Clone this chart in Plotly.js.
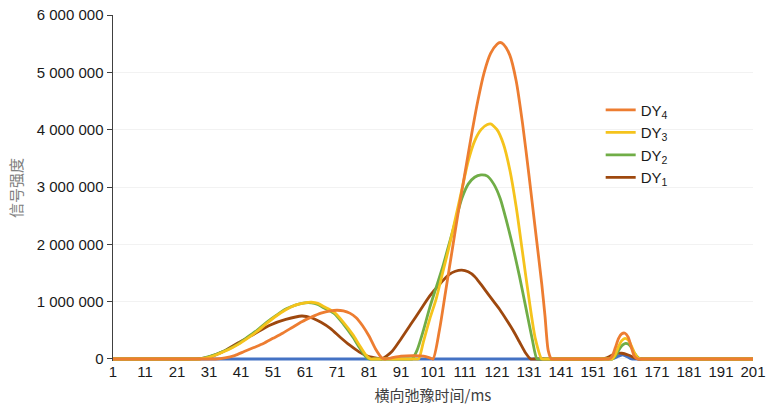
<!DOCTYPE html>
<html>
<head>
<meta charset="utf-8">
<script src="https://cdn.plot.ly/plotly-3.0.1.min.js"></script>
<style>html,body{margin:0;padding:0;background:#fff}#chart{width:772px;height:414px}</style>
</head>
<body>
<div id="chart"></div>
<script>
// ---- data ----
const xTickVals = [1, 11, 21, 31, 41, 51, 61, 71, 81, 91, 101, 111, 121, 131, 141, 151, 161, 171, 181, 191, 201];
const xTickText = ["1", "11", "21", "31", "41", "51", "61", "71", "81", "91", "101", "111", "121", "131", "141", "151", "161", "171", "181", "191", "201"];
const yTickVals = [0, 1000000, 2000000, 3000000, 4000000, 5000000, 6000000];
const yTickText = ["0", "1 000 000", "2 000 000", "3 000 000", "4 000 000", "5 000 000", "6 000 000"];

const seriesNames = ["DY<sub>1</sub>", "DY<sub>2</sub>", "DY<sub>3</sub>", "DY<sub>4</sub>"];

// DY1 (brown)
const dy1X = [1, 2, 24, 25, 30, 35, 40, 45, 50, 55, 60, 63, 66, 69, 72, 75, 78, 81, 84, 85, 88, 91, 94, 97, 100, 103, 106, 108, 110, 112, 114, 116, 118, 120, 122, 124, 126, 128, 130, 131.5, 132.5, 153, 154, 156, 158, 160, 162, 164, 165, 166, 200, 201];
const dy1Y = [0, 0, 0, 0, 20000, 120000, 280000, 430000, 590000, 690000, 750000, 720000, 640000, 530000, 380000, 240000, 120000, 40000, 10000, 0, 120000, 350000, 600000, 850000, 1100000, 1300000, 1470000, 1530000, 1550000, 1520000, 1440000, 1300000, 1150000, 1000000, 850000, 680000, 500000, 300000, 100000, 0, 0, 0, 0, 40000, 90000, 100000, 70000, 20000, 0, 0, 0, 0];

// DY2 (green)
const dy2X = [1, 2, 27, 28, 31, 34, 37, 40, 43, 46, 49, 52, 55, 58, 61, 63, 65, 67, 70, 73, 76, 78, 80, 81, 82, 93.5, 94.5, 96, 98, 100, 102, 104, 106, 108, 110, 112, 114, 116, 118, 120, 122, 124, 126, 128, 130, 132, 133.5, 134.5, 156, 157, 158, 159, 160, 161, 162, 163, 164, 165, 166, 167, 200, 201];
const dy2Y = [0, 0, 0, 0, 40000, 100000, 170000, 260000, 380000, 500000, 640000, 760000, 870000, 940000, 980000, 980000, 950000, 890000, 800000, 610000, 380000, 200000, 40000, 0, 0, 0, 0, 150000, 500000, 900000, 1250000, 1600000, 2000000, 2400000, 2800000, 3050000, 3170000, 3210000, 3190000, 3050000, 2800000, 2400000, 1950000, 1450000, 900000, 350000, 0, 0, 0, 0, 50000, 150000, 230000, 270000, 260000, 200000, 100000, 30000, 0, 0, 0, 0];

// DY3 (yellow)
const dy3X = [1, 2, 27, 28, 31, 34, 37, 40, 43, 46, 49, 52, 55, 58, 61, 63, 65, 67, 70, 73, 76, 78, 80, 81.5, 82.5, 95.5, 96.5, 98, 100, 102, 104, 106, 108, 110, 112, 114, 116, 118, 119, 121, 123, 125, 127, 129, 131, 133, 135, 136, 156, 157, 158, 159, 160, 161, 162, 163, 164, 165, 166, 167, 200, 201];
const dy3Y = [0, 0, 0, 0, 30000, 90000, 160000, 250000, 360000, 480000, 620000, 750000, 860000, 940000, 980000, 990000, 970000, 910000, 820000, 640000, 420000, 240000, 70000, 0, 0, 0, 0, 300000, 700000, 1050000, 1500000, 1950000, 2450000, 2950000, 3450000, 3800000, 4000000, 4090000, 4100000, 4000000, 3750000, 3300000, 2650000, 1850000, 1050000, 350000, 0, 0, 0, 0, 80000, 220000, 320000, 360000, 330000, 230000, 100000, 20000, 0, 0, 0, 0];

// DY4 (orange)
const dy4X = [1, 2, 32, 33, 36, 39, 42, 45, 48, 51, 54, 57, 60, 63, 66, 69, 71, 73, 75, 77, 79, 81, 83, 85, 86, 88, 91, 95, 98, 100, 101, 103, 105, 107, 109, 111, 113, 115, 117, 119, 121, 122, 123, 125, 127, 129, 131, 133, 135, 136, 137, 138, 139, 155, 156, 157, 158, 159, 160, 161, 162, 163, 164, 165, 166, 200, 201];
const dy4Y = [0, 0, 0, 0, 20000, 60000, 130000, 200000, 270000, 360000, 450000, 550000, 650000, 730000, 800000, 840000, 850000, 840000, 800000, 720000, 580000, 400000, 180000, 20000, 0, 20000, 50000, 60000, 50000, 20000, 0, 500000, 1200000, 1900000, 2600000, 3250000, 3900000, 4500000, 5000000, 5330000, 5490000, 5520000, 5490000, 5300000, 4850000, 4100000, 3200000, 2250000, 1300000, 750000, 150000, 0, 0, 0, 0, 50000, 200000, 360000, 440000, 450000, 380000, 200000, 40000, 0, 0, 0, 0];

// unlabelled blue series (baseline)
const baseX = [1, 2, 155, 156, 157, 159, 160, 161, 163, 164, 165, 200, 201];
const baseY = [0, 0, 0, 0, 0, 50000, 70000, 60000, 0, 0, 0, 0, 0];

const colors = {base: "#4472C4", dy1: "#9E480E", dy2: "#70AD47", dy3: "#F5C31C", dy4: "#ED7D31"};

function tr(x, y, name, color, show) {
  return {x: x, y: y, name: name, type: "scatter", mode: "lines",
    line: {color: color, width: 2.8, shape: "spline", smoothing: 0.7},
    showlegend: show, hoverinfo: "skip"};
}

const data = [
  tr(baseX, baseY, "", colors.base, false),
  tr(dy1X, dy1Y, seriesNames[0], colors.dy1, true),
  tr(dy2X, dy2Y, seriesNames[1], colors.dy2, true),
  tr(dy3X, dy3Y, seriesNames[2], colors.dy3, true),
  tr(dy4X, dy4Y, seriesNames[3], colors.dy4, true)
];

const font = {family: "Liberation Sans, Arial, sans-serif", size: 15, color: "#1a1a1a"};

const layout = {
  width: 772, height: 414,
  margin: {l: 113, r: 19, t: 15, b: 53},
  paper_bgcolor: "#fff", plot_bgcolor: "#fff",
  font: font,
  showlegend: true,
  legend: {x: 0.762, y: 0.773, xanchor: "left", yanchor: "top", traceorder: "reversed",
    font: {family: font.family, size: 15, color: "#1a1a1a"}, bgcolor: "rgba(0,0,0,0)"},
  xaxis: {range: [1, 201], tickvals: xTickVals, ticktext: xTickText, showgrid: false,
    zeroline: false, showline: false, ticks: "", tickfont: font,
    title: {text: "横向弛豫时间/ms", font: {family: "Noto Sans CJK SC, sans-serif", size: 15, color: "#404040"}, standoff: 11}},
  yaxis: {range: [-35000, 6000000], tickvals: yTickVals, ticktext: yTickText,
    showgrid: true, gridcolor: "#f2f2f2", gridwidth: 1, zeroline: false,
    showline: true, linecolor: "#404040", linewidth: 1.5, ticks: "outside", ticklen: 5,
    tickcolor: "#404040", tickfont: font,
    title: {text: "信号强度", font: {family: "Noto Sans CJK SC, sans-serif", size: 15, color: "#808080"}, standoff: 10}}
};

Plotly.newPlot("chart", data, layout, {staticPlot: true, displayModeBar: false});
</script>
</body>
</html>
